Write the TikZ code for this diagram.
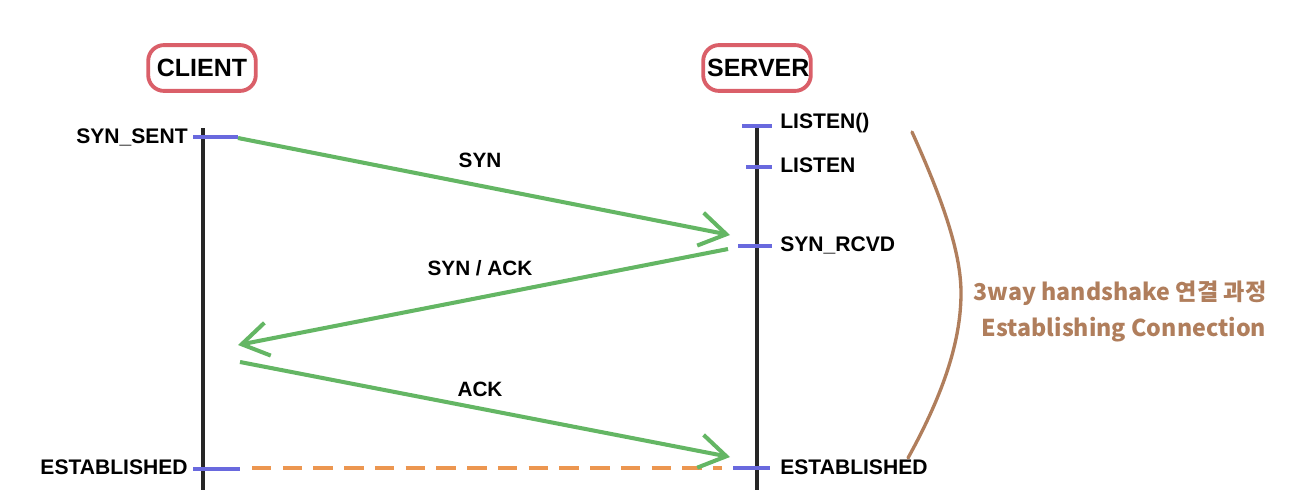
\documentclass[tikz,border=0pt]{standalone}
\usepackage{fontspec}
\setmainfont{Liberation Sans}
\newfontfamily\krfont{Noto Sans CJK KR}
\usetikzlibrary{arrows.meta}
\definecolor{boxred}{RGB}{218,95,105}
\definecolor{arrgreen}{RGB}{100,182,100}
\definecolor{tickblue}{RGB}{105,105,222}
\definecolor{dashorange}{RGB}{236,150,80}
\definecolor{brown}{RGB}{176,126,92}
\tikzset{
  hostbox/.style={draw=boxred, line width=2.2pt, rounded corners=9pt, minimum width=108pt*0.567, inner sep=0pt,
    font=\fontsize{14.2}{16}\selectfont\bfseries, minimum height=46*0.567pt, text width=100*0.567pt, align=center},
  lifeline/.style={draw=black!85, line width=2pt},
  statelbl/.style={inner sep=0pt, font=\fontsize{12}{14}\selectfont\bfseries},
  msglbl/.style={inner sep=0pt, font=\fontsize{11.8}{14}\selectfont\bfseries},
  tick/.style={draw=tickblue, line width=2pt},
  msg/.style={draw=arrgreen, line width=2.3pt, -{Straight Barb[length=15pt,width=19pt,line width=2.3pt]}},
  estdash/.style={draw=dashorange, line width=2pt, dash pattern=on 11pt off 6.5pt},
  bracecurve/.style={draw=brown, line width=1.9pt, line cap=round},
  notelbl/.style={inner sep=0pt, text=brown, font=\krfont\bfseries\fontsize{13.2}{15}\selectfont}
}
\begin{document}
\begin{tikzpicture}[x=0.02cm, y=-0.02cm]
\useasboundingbox (0,0) rectangle (1311,490);

% host boxes
\node[hostbox] (client) at (202,68) {CLIENT};
\node[hostbox] (server) at (757,68) {SERVER};

% lifelines
\coordinate (cTop) at (203,128);
\coordinate (cBot) at (203,490);
\coordinate (sTop) at (757,124);
\coordinate (sBot) at (757,490);
\draw[lifeline] (cTop) -- (cBot);
\draw[lifeline] (sTop) -- (sBot);

% state labels
\node[statelbl, anchor=east] (synsent) at (188,137) {SYN\_SENT};
\node[statelbl, anchor=west] (listenf) at (780,123) {LISTEN()};
\node[statelbl, anchor=west] (listen) at (780,165) {LISTEN};
\node[statelbl, anchor=west] (synrcvd) at (780,245) {SYN\_RCVD};
\node[statelbl, anchor=east] (estc) at (188,467) {ESTABLISHED};
\node[statelbl, anchor=west] (ests) at (780,467) {ESTABLISHED};

% ticks
\coordinate (t1a) at (193,137); \coordinate (t1b) at (238,137);
\coordinate (t2a) at (742,126); \coordinate (t2b) at (772,126);
\coordinate (t3a) at (746,167); \coordinate (t3b) at (772,167);
\coordinate (t4a) at (738,246); \coordinate (t4b) at (772,246);
\coordinate (t5a) at (193,469); \coordinate (t5b) at (240,469);
\coordinate (t6a) at (733,468); \coordinate (t6b) at (770,468);
\draw[tick] (t1a) -- (t1b);
\draw[tick] (t2a) -- (t2b);
\draw[tick] (t3a) -- (t3b);
\draw[tick] (t4a) -- (t4b);
\draw[tick] (t5a) -- (t5b);
\draw[tick] (t6a) -- (t6b);

% established dashed line
\coordinate (d1) at (252,468);
\coordinate (d2) at (722,468);
\draw[estdash] (d1) -- (d2);

% messages
\coordinate (synA) at (238,138);
\coordinate (synB) at (730,235);
\draw[msg] (synA) -- (synB);
\node[msglbl] (synlbl) at (480,160) {SYN};

\coordinate (saA) at (728,249);
\coordinate (saB) at (238,345);
\draw[msg] (saA) -- (saB);
\node[msglbl] (salbl) at (480,268) {SYN / ACK};

\coordinate (ackA) at (240,362);
\coordinate (ackB) at (730,457);
\draw[msg] (ackA) -- (ackB);
\node[msglbl] (acklbl) at (480,389) {ACK};

% brace curve
\coordinate (brT) at (912,132);
\coordinate (brM) at (961,293);
\coordinate (brB) at (908,458);
\draw[bracecurve] (brT) .. controls (945,205) and (961,255) .. (brM) .. controls (961,345) and (940,400) .. (brB);

% note
\node[notelbl] (note1) at (1120,293) {3way handshake 연결 과정};
\node[notelbl] (note2) at (1124,330) {Establishing Connection};
\end{tikzpicture}
\end{document}
